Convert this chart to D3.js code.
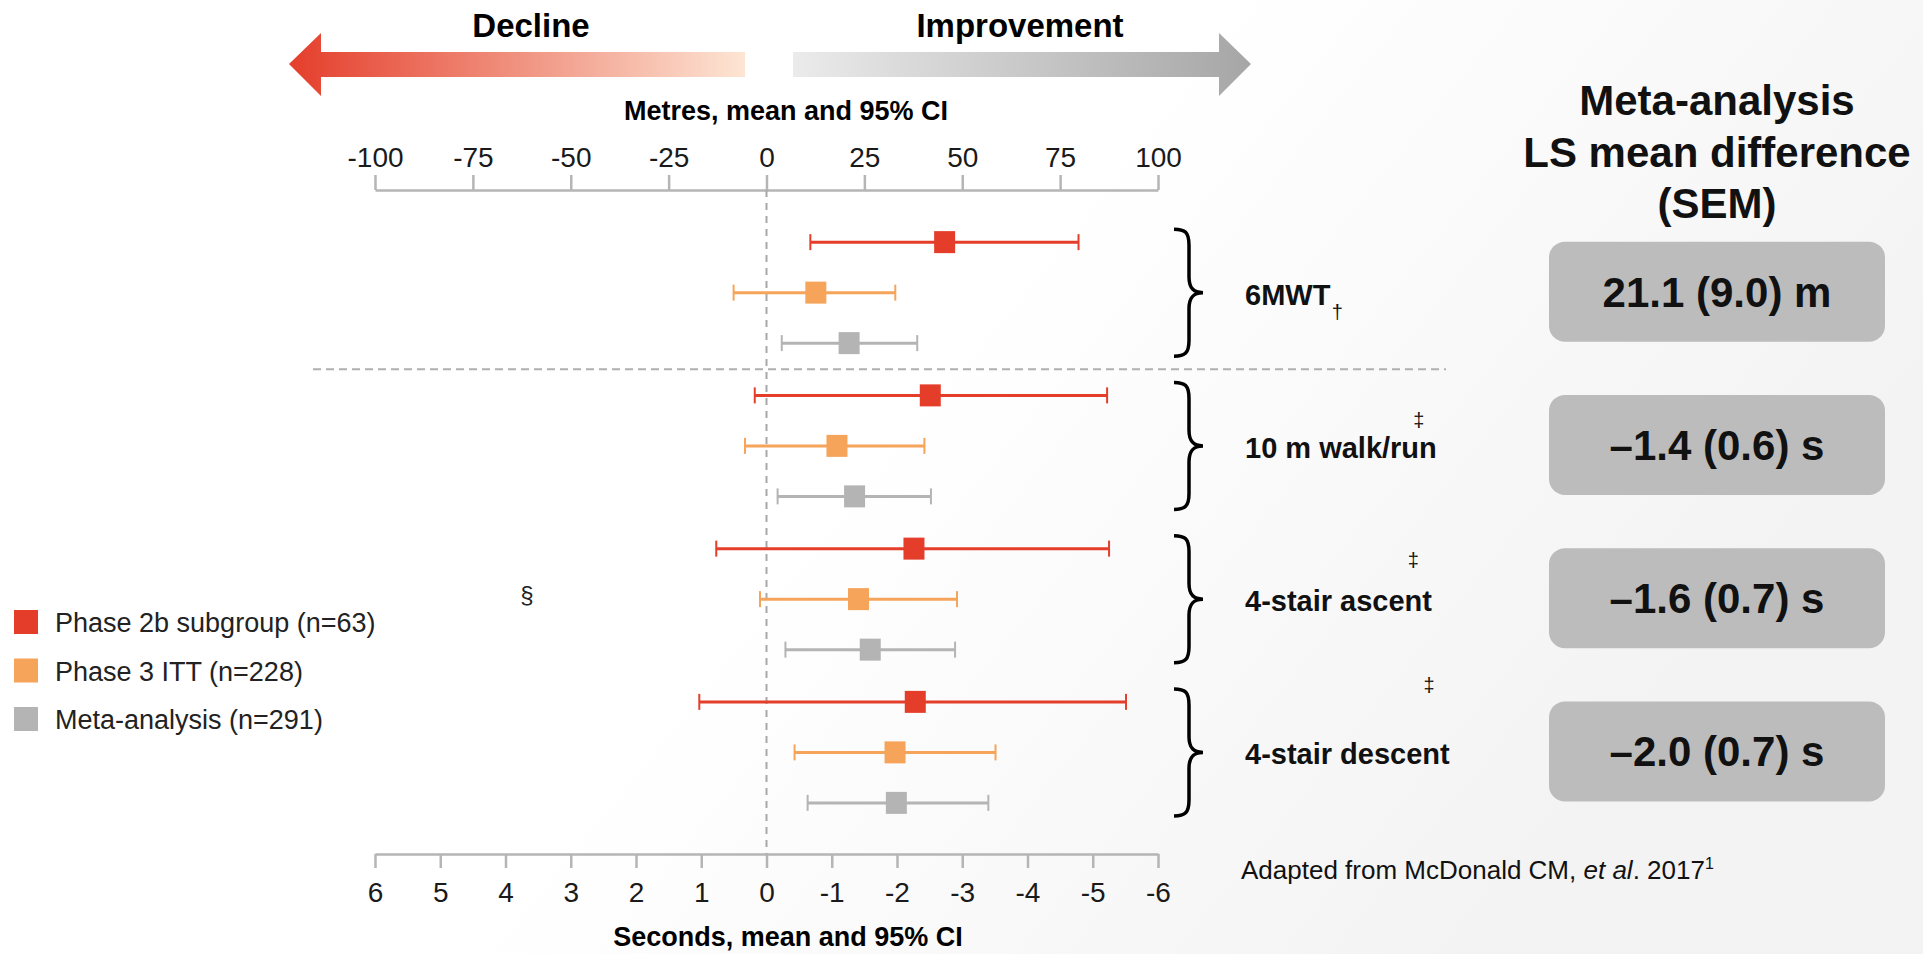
<!DOCTYPE html>
<html>
<head>
<meta charset="utf-8">
<script src="https://cdn.jsdelivr.net/npm/d3@7"></script>
<style>
  html, body { margin: 0; padding: 0; background: #fff; }
  svg { display: block; font-family: "Liberation Sans", Arial, sans-serif; }
</style>
</head>
<body>
<svg id="chart" width="1923" height="954"></svg>
<script>
/*
Data
*/
var groups = ["6MWT", "10 m walk/run", "4-stair ascent", "4-stair descent"];
var groupUnits = ["m", "s", "s", "s"];
var footMarks = ["\u2020", "\u2021", "\u2021", "\u2021"];
var seriesNames = ["Phase 2b subgroup (n=63)", "Phase 3 ITT (n=228)", "Meta-analysis (n=291)"];
var seriesColors = ["#e43e2b", "#f5a45a", "#b4b4b4"];

// mean, lower and upper CI per group (metres for 6MWT, seconds for the rest)
var phase2bMean = [45.5, -2.51, -2.26, -2.28];
var phase2bLow  = [11.2, 0.18, 0.77, 1.03];
var phase2bHigh = [79.7, -5.22, -5.25, -5.51];
var phase3Mean  = [12.6, -1.08, -1.41, -1.97];
var phase3Low   = [-8.4, 0.33, 0.10, -0.43];
var phase3High  = [32.9, -2.42, -2.92, -3.51];
var metaMean    = [21.1, -1.35, -1.59, -1.99];
var metaLow     = [3.9, -0.17, -0.29, -0.63];
var metaHigh    = [38.5, -2.52, -2.89, -3.40];

var metreTicks = [-100, -75, -50, -25, 0, 25, 50, 75, 100];
var secondTicks = [6, 5, 4, 3, 2, 1, 0, -1, -2, -3, -4, -5, -6];
var summaryLabels = ["21.1 (9.0) m", "\u20131.4 (0.6) s", "\u20131.6 (0.7) s", "\u20132.0 (0.7) s"];
var titleLines = ["Meta-analysis", "LS mean difference", "(SEM)"];

/*
Scales
*/
var svg = d3.select("#chart");
var xMetres = d3.scaleLinear().domain([-100, 100]).range([375, 1158]);
var xSeconds = d3.scaleLinear().domain([6, -6]).range([375, 1158]);
var yGroup = d3.scaleBand().domain(groups).range([216, 829]);
var ySeries = d3.scalePoint().domain(seriesNames).range([-50.5, 50.5]);
function groupMid(g){ return yGroup(g) + yGroup.bandwidth()/2; }
function xFor(i){ return groupUnits[i] == "m" ? xMetres : xSeconds; }

// background wash
var defs = svg.append("defs");
var bg = defs.append("linearGradient").attr("id", "bg").attr("x1", "0").attr("x2", "1").attr("y1", "0").attr("y2", "0.4");
bg.append("stop").attr("offset", "0.55").attr("stop-color", "#ffffff");
bg.append("stop").attr("offset", "1").attr("stop-color", "#f3f3f3");
svg.append("rect").attr("width", 1923).attr("height", 954).attr("fill", "url(#bg)");

/*
Decline / Improvement arrows
*/
var redGrad = defs.append("linearGradient").attr("id", "redGrad");
redGrad.append("stop").attr("offset", "0").attr("stop-color", "#e43e2b");
redGrad.append("stop").attr("offset", "1").attr("stop-color", "#fde5d4");
var greyGrad = defs.append("linearGradient").attr("id", "greyGrad");
greyGrad.append("stop").attr("offset", "0").attr("stop-color", "#ebebeb");
greyGrad.append("stop").attr("offset", "1").attr("stop-color", "#a6a6a6");

svg.append("polygon")
   .attr("points", "289,64 321,33 321,52 745,52 745,77 321,77 321,96")
   .attr("fill", "url(#redGrad)");
svg.append("polygon")
   .attr("points", "793,52 1219,52 1219,33 1251,64 1219,96 1219,77 793,77")
   .attr("fill", "url(#greyGrad)");

svg.append("text").attr("x", 531).attr("y", 37).attr("text-anchor", "middle")
   .attr("font-size", 33).attr("font-weight", "bold").text("Decline");
svg.append("text").attr("x", 1020).attr("y", 37).attr("text-anchor", "middle")
   .attr("font-size", 33).attr("font-weight", "bold").text("Improvement");

/*
Axes
*/
svg.append("text").attr("x", 786).attr("y", 120).attr("text-anchor", "middle")
   .attr("font-size", 27).attr("font-weight", "bold").text("Metres, mean and 95% CI");
svg.append("text").attr("x", 788).attr("y", 946).attr("text-anchor", "middle")
   .attr("font-size", 27).attr("font-weight", "bold").text("Seconds, mean and 95% CI");

function plainTick(d){ return String(d); }
var topAxis = svg.append("g").attr("transform", "translate(0,190)")
   .call(d3.axisTop(xMetres).tickValues(metreTicks).tickFormat(plainTick)
           .tickSize(15).tickSizeOuter(0).tickPadding(8));
var bottomAxis = svg.append("g").attr("transform", "translate(0,854)")
   .call(d3.axisBottom(xSeconds).tickValues(secondTicks).tickFormat(plainTick)
           .tickSize(14).tickSizeOuter(0).tickPadding(14));
[topAxis, bottomAxis].forEach(function(ax){
  ax.selectAll("path, line").attr("stroke", "#b5b5b5").attr("stroke-width", 2.5);
  ax.selectAll("text").attr("font-size", 28).attr("fill", "#1a1a1a")
    .attr("font-family", "\"Liberation Sans\", Arial, sans-serif");
});

// zero reference line and group separator
svg.append("line").attr("x1", xMetres(0)).attr("x2", xMetres(0)).attr("y1", 190).attr("y2", 854)
   .attr("stroke", "#a8a8a8").attr("stroke-width", 2).attr("stroke-dasharray", "7,6");
var sepY = (groupMid(groups[0]) + groupMid(groups[1]))/2;
svg.append("line").attr("x1", 313).attr("x2", 1446).attr("y1", sepY).attr("y2", sepY)
   .attr("stroke", "#b0b0b0").attr("stroke-width", 2).attr("stroke-dasharray", "8,5");

/*
Forest plot rows
*/
var rows = [];
var means = [phase2bMean, phase3Mean, metaMean];
var lows = [phase2bLow, phase3Low, metaLow];
var highs = [phase2bHigh, phase3High, metaHigh];
groups.forEach(function(g, i){
  seriesNames.forEach(function(s, j){
    rows.push({group: g, gi: i, series: s, si: j, mean: means[j][i], low: lows[j][i], high: highs[j][i]});
  });
});

var row = svg.append("g").selectAll("g").data(rows).enter().append("g")
   .attr("transform", function(d){ return "translate(0," + (groupMid(d.group) + ySeries(d.series)) + ")"; });

row.append("line")
   .attr("x1", function(d){ return xFor(d.gi)(d.low); })
   .attr("x2", function(d){ return xFor(d.gi)(d.high); })
   .attr("stroke", function(d){ return seriesColors[d.si]; })
   .attr("stroke-width", 3);
["low", "high"].forEach(function(k){
  row.append("line")
     .attr("x1", function(d){ return xFor(d.gi)(d[k]); })
     .attr("x2", function(d){ return xFor(d.gi)(d[k]); })
     .attr("y1", -8).attr("y2", 8)
     .attr("stroke", function(d){ return seriesColors[d.si]; })
     .attr("stroke-width", 2);
});
row.append("rect")
   .attr("x", function(d){ return xFor(d.gi)(d.mean) - 10.5; })
   .attr("y", -11).attr("width", 21).attr("height", 22)
   .attr("fill", function(d){ return seriesColors[d.si]; });

/*
Braces, labels, summary boxes
*/
function bracePath(x0, y0, y1, ym){
  return "M" + x0 + "," + y0 +
    " C" + (x0+11) + "," + y0 + " " + (x0+15) + "," + (y0+3) + " " + (x0+15) + "," + (y0+16) +
    " L" + (x0+15) + "," + (ym-16) +
    " C" + (x0+15) + "," + (ym-5) + " " + (x0+19) + "," + ym + " " + (x0+29) + "," + ym +
    " C" + (x0+19) + "," + ym + " " + (x0+15) + "," + (ym+5) + " " + (x0+15) + "," + (ym+16) +
    " L" + (x0+15) + "," + (y1-16) +
    " C" + (x0+15) + "," + (y1-3) + " " + (x0+11) + "," + y1 + " " + x0 + "," + y1;
}

var grp = svg.append("g").selectAll("g").data(groups).enter().append("g");
grp.append("path")
   .attr("d", function(g){
     var m = groupMid(g);
     return bracePath(1174, m + ySeries(seriesNames[0]) - 13, m + ySeries(seriesNames[2]) + 13, m);
   })
   .attr("fill", "none").attr("stroke", "#000").attr("stroke-width", 3.5);

var labels = grp.append("text")
   .attr("x", 1245).attr("y", function(g){ return groupMid(g) + 12; })
   .attr("font-size", 29).attr("font-weight", "bold").attr("fill", "#111")
   .text(function(g){ return g; });

// footnote marks, placed off the end of each label
var markShift = [[1, 14], [-18, -31], [-19, -44], [-21, -72]];
labels.each(function(g, i){
  var bb = this.getBBox();
  svg.append("text")
     .attr("x", bb.x + bb.width + markShift[i][0])
     .attr("y", groupMid(g) + 12 + markShift[i][1])
     .attr("text-anchor", i == 0 ? "start" : "middle")
     .attr("font-size", 20).attr("fill", "#111")
     .text(footMarks[i]);
});

grp.append("rect")
   .attr("x", 1549).attr("width", 336).attr("height", 100).attr("rx", 16)
   .attr("y", function(g){ return groupMid(g) - 51; })
   .attr("fill", "#bcbcbc");
grp.append("text")
   .attr("x", 1717).attr("y", function(g){ return groupMid(g) + 14; })
   .attr("text-anchor", "middle").attr("font-size", 42).attr("font-weight", "bold").attr("fill", "#111")
   .text(function(g, i){ return summaryLabels[i]; });

svg.append("g").selectAll("text").data(titleLines).enter().append("text")
   .attr("x", 1717).attr("y", function(d, i){ return 115 + i*51.5; })
   .attr("text-anchor", "middle").attr("font-size", 42).attr("font-weight", "bold").attr("fill", "#111")
   .text(function(d){ return d; });

/*
Legend and notes
*/
var legend = svg.append("g").selectAll("g").data(seriesNames).enter().append("g")
   .attr("transform", function(d, i){ return "translate(14," + (622 + i*48.5) + ")"; });
legend.append("rect").attr("y", -12).attr("width", 24).attr("height", 24)
   .attr("fill", function(d, i){ return seriesColors[i]; });
legend.append("text").attr("x", 41).attr("y", 10).attr("font-size", 27).attr("fill", "#222")
   .text(function(d){ return d; });

svg.append("text").attr("x", 527).attr("y", 603).attr("text-anchor", "middle")
   .attr("font-size", 24).attr("fill", "#222").text("\u00a7");

var note = svg.append("text").attr("x", 1241).attr("y", 879).attr("font-size", 26).attr("fill", "#111");
note.append("tspan").text("Adapted from McDonald CM, ");
note.append("tspan").attr("font-style", "italic").text("et al");
note.append("tspan").text(". 2017");
note.append("tspan").attr("font-size", 16).attr("dy", -10).text("1");
</script>
</body>
</html>
